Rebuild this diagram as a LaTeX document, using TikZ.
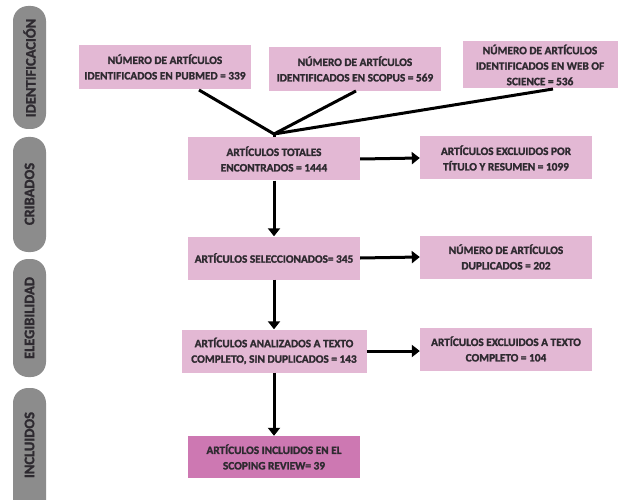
\documentclass[tikz,border=0pt]{standalone}
\usepackage{fontspec}
\setmainfont{Carlito}[BoldFont={Carlito Bold},BoldFeatures={FakeBold=1.6}]
\usetikzlibrary{arrows.meta}
\definecolor{boxpink}{HTML}{E3B8D4}
\definecolor{darkpink}{HTML}{CD78B2}
\definecolor{pillgray}{HTML}{8C8C8C}
\definecolor{txt}{HTML}{2E2A30}
\begin{document}
\begin{tikzpicture}[x=1pt,y=-1pt,
  pbox/.style={fill=boxpink, draw=none, align=center, text=txt,
    font=\bfseries\fontsize{11.3}{15.5}\selectfont, inner sep=0pt},
  pill/.style={fill=pillgray, draw=none, rounded corners=15pt},
  pilltext/.style={rotate=90, text=txt, font=\bfseries\fontsize{14.5}{16}\selectfont},
  conn/.style={line width=3pt, black},
  arr/.style={conn, -{Triangle[length=8pt,width=12pt]}}]
\useasboundingbox[fill=white] (0,0) rectangle (624,500);
% phase pills
\draw[pill] (13,6) rectangle (46,129);
\node[pilltext] (p1) at (29.5,68) {IDENTIFICACIÓN};
\draw[pill] (13,137) rectangle (46,252);
\node[pilltext] (p2) at (29.5,194) {CRIBADOS};
\draw[pill] (13,259) rectangle (46,377);
\node[pilltext] (p3) at (29.5,318) {ELEGIBILIDAD};
\draw[pill] (13,388) rectangle (46,520);
\node[pilltext] (p4) at (29.5,445) {INCLUIDOS};
% boxes
\node[pbox, minimum width=172pt, minimum height=44pt] (pub) at (165,67) {NÚMERO DE ARTÍCULOS\\IDENTIFICADOS EN PUBMED = 339};
\node[pbox, minimum width=172pt, minimum height=44pt] (sco) at (355,69) {NÚMERO DE ARTÍCULOS\\IDENTIFICADOS EN SCOPUS = 569};
\node[pbox, minimum width=155pt, minimum height=47pt] (wos) at (540,65) {NÚMERO DE ARTÍCULOS\\IDENTIFICADOS EN WEB OF\\SCIENCE = 536};
\node[pbox, minimum width=172pt, minimum height=43pt] (tot) at (274,159) {ARTÍCULOS TOTALES\\ENCONTRADOS = 1444};
\node[pbox, minimum width=172pt, minimum height=43pt] (ex1) at (506,158) {ARTÍCULOS EXCLUIDOS POR\\TÍTULO Y RESUMEN = 1099};
\node[pbox, minimum width=172pt, minimum height=43pt] (sel) at (274,258) {ARTÍCULOS SELECCIONADOS= 345};
\node[pbox, minimum width=172pt, minimum height=43pt] (dup) at (506,257) {NÚMERO DE ARTÍCULOS\\DUPLICADOS = 202};
\node[pbox, minimum width=185pt, minimum height=43pt] (ana) at (274,351) {ARTÍCULOS ANALIZADOS A TEXTO\\COMPLETO, SIN DUPLICADOS = 143};
\node[pbox, minimum width=172pt, minimum height=43pt] (ex2) at (506,349) {ARTÍCULOS EXCLUIDOS A TEXTO\\COMPLETO = 104};
\node[pbox, fill=darkpink, minimum width=172pt, minimum height=42pt] (inc) at (274,457) {ARTÍCULOS INCLUIDOS EN EL\\SCOPING REVIEW= 39};
% connectors
\coordinate (m) at (274,134);
\draw[conn] (199,90) -- (m);
\draw[conn] (356,91) -- (m);
\draw[conn] (553,89) -- (m);
\draw[conn] (m) -- (tot.north);
\draw[arr] (tot.east) -- (ex1.west);
\draw[arr] (tot.south) -- (sel.north);
\draw[arr] (sel.east) -- (dup.west);
\draw[arr] (sel.south) -- (ana.north);
\draw[arr] (ana.east) -- (ex2.west |- ana.east);
\draw[arr] (ana.south) -- (inc.north);
\end{tikzpicture}
\end{document}
